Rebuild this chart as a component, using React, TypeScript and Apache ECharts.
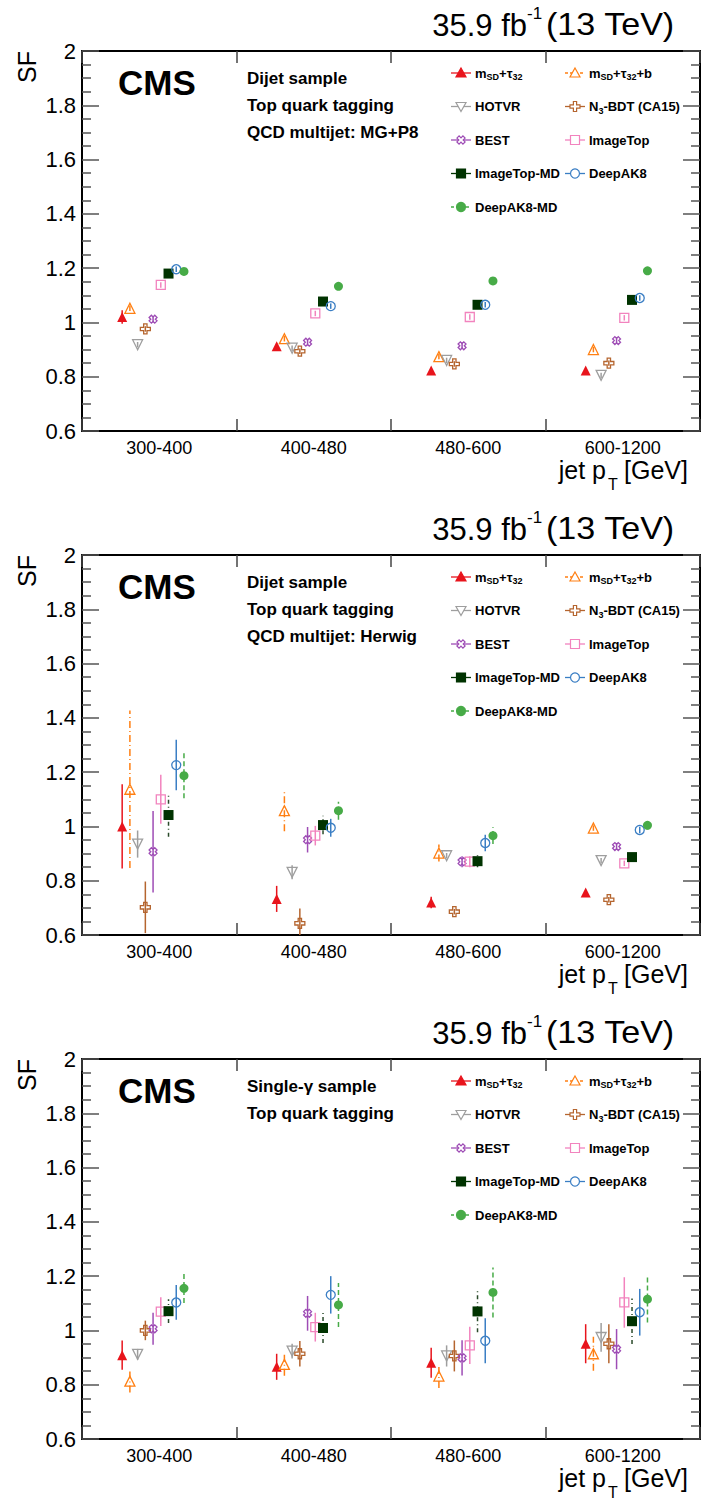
import React, { useEffect, useRef } from "react";
import * as echarts from "echarts";

const categories = ["300-400", "400-480", "480-600", "600-1200"];
const yTicks = { min: 0.6, max: 2, interval: 0.2 };

// Tagger order: m_SD+tau32, m_SD+tau32+b, HOTVR, N3-BDT (CA15), BEST, ImageTop, ImageTop-MD, DeepAK8, DeepAK8-MD
const taggerNames = ["msdTau32", "msdTau32b", "HOTVR", "N3-BDT (CA15)", "BEST", "ImageTop", "ImageTop-MD", "DeepAK8", "DeepAK8-MD"];

// Panel 1: Dijet sample, QCD multijet MG+P8
const mgSF = [
  [1.02, 0.912, 0.823, 0.823],
  [1.052, 0.94, 0.874, 0.9],
  [0.918, 0.905, 0.86, 0.805],
  [0.976, 0.894, 0.847, 0.85],
  [1.012, 0.927, 0.914, 0.933],
  [1.138, 1.033, 1.02, 1.017],
  [1.18, 1.077, 1.065, 1.083],
  [1.196, 1.06, 1.065, 1.09],
  [1.188, 1.133, 1.153, 1.19],
];
const mgErr = [
  [0.025, 0.01, 0.01, 0.01],
  [0.01, 0.01, 0.01, 0.01],
  [0.01, 0.01, 0.01, 0.01],
  [0.01, 0.01, 0.01, 0.01],
  [0.01, 0.01, 0.01, 0.01],
  [0.01, 0.01, 0.01, 0.01],
  [0.01, 0.01, 0.01, 0.01],
  [0.01, 0.01, 0.01, 0.01],
  [0.01, 0.01, 0.01, 0.01],
];

// Panel 2: Dijet sample, QCD multijet Herwig
const hwSF = [
  [1.0, 0.733, 0.72, 0.757],
  [1.137, 1.058, 0.902, 0.994],
  [0.935, 0.831, 0.892, 0.874],
  [0.702, 0.643, 0.686, 0.73],
  [0.907, 0.951, 0.87, 0.926],
  [1.1, 0.966, 0.87, 0.864],
  [1.042, 1.005, 0.872, 0.887],
  [1.226, 0.995, 0.939, 0.987],
  [1.187, 1.058, 0.966, 1.004],
];
const hwErr = [
  [0.155, 0.048, 0.021, 0.01],
  [0.29, 0.076, 0.031, 0.01],
  [0.05, 0.026, 0.01, 0.01],
  [0.095, 0.055, 0.01, 0.01],
  [0.15, 0.047, 0.02, 0.01],
  [0.09, 0.036, 0.02, 0.01],
  [0.08, 0.034, 0.022, 0.012],
  [0.093, 0.033, 0.03, 0.012],
  [0.083, 0.033, 0.031, 0.015],
];

// Panel 3: Single-gamma sample
const gammaSF = [
  [0.909, 0.866, 0.881, 0.951],
  [0.813, 0.875, 0.832, 0.914],
  [0.912, 0.924, 0.906, 0.974],
  [1.0, 0.914, 0.906, 0.951],
  [1.006, 1.063, 0.899, 0.931],
  [1.069, 1.012, 0.945, 1.103],
  [1.071, 1.009, 1.07, 1.034],
  [1.103, 1.131, 0.962, 1.067],
  [1.155, 1.094, 1.14, 1.115],
];
const gammaErr = [
  [0.054, 0.048, 0.055, 0.072],
  [0.042, 0.042, 0.044, 0.063],
  [0.02, 0.027, 0.039, 0.053],
  [0.036, 0.047, 0.057, 0.072],
  [0.059, 0.064, 0.065, 0.074],
  [0.053, 0.053, 0.069, 0.093],
  [0.044, 0.055, 0.077, 0.084],
  [0.064, 0.069, 0.083, 0.086],
  [0.054, 0.081, 0.092, 0.086],
];

const panelTexts = [
  ["Dijet sample", "Top quark tagging", "QCD multijet: MG+P8"],
  ["Dijet sample", "Top quark tagging", "QCD multijet: Herwig"],
  ["Single-\u03b3 sample", "Top quark tagging"],
];

const FONT = "'Liberation Sans', Arial, Helvetica, sans-serif";

const colors = ["#e8141c", "#ff7f12", "#9e9e9e", "#b5652f", "#9e4cb5", "#f283be", "#003300", "#3a7ec4", "#47ab47"];
const hollow = [false, true, true, true, true, true, false, true, false];
const barDash: (number[] | null)[] = [null, [7, 3, 1, 3], null, null, null, null, [4, 3, 1, 3], null, [5, 3]];
const barColors = ["#e8141c", "#ff7f12", "#9e9e9e", "#b5652f", "#9e4cb5", "#f283be", "#2a4a2a", "#3a7ec4", "#47ab47"];

const plusPath = "path://M-1,-3L1,-3L1,-1L3,-1L3,1L1,1L1,3L-1,3L-1,1L-3,1L-3,-1L-1,-1Z";
const xPath = "path://M-1.2,-3L1.2,-3L1.2,-1.2L3,-1.2L3,1.2L1.2,1.2L1.2,3L-1.2,3L-1.2,1.2L-3,1.2L-3,-1.2L-1.2,-1.2Z";
const symbols = ["triangle", "triangle", "triangle", plusPath, xPath, "rect", "rect", "circle", "circle"];
const symRot = [0, 0, 180, 0, 45, 0, 0, 0, 0];
const symSize = [10, 10, 10, 10, 8, 9, 10, 9, 9];

const PANEL_DY = 504;
const GRID_LEFT = 82;
const GRID_RIGHT_X = 700;
const GRID_TOP = 51;
const GRID_H = 380;

function xPos(cat: number, i: number) {
  return cat + 0.5 - 0.24 + 0.05 * i;
}

function legendLabel(i: number) {
  const sub = { fontSize: 9, fontWeight: "bold", fontFamily: FONT, verticalAlign: "middle", padding: [8, 0, 0, 0], fill: "#000" };
  const main = { fontSize: 13, fontWeight: "bold", fontFamily: FONT, verticalAlign: "middle", fill: "#000" };
  if (i === 0) return { text: "{m|m}{s|SD}{m|+\u03c4}{s|32}", rich: { m: main, s: sub } };
  if (i === 1) return { text: "{m|m}{s|SD}{m|+\u03c4}{s|32}{m|+b}", rich: { m: main, s: sub } };
  if (i === 3) return { text: "{m|N}{s|3}{m|-BDT (CA15)}", rich: { m: main, s: sub } };
  return { text: "{m|" + taggerNames[i] + "}", rich: { m: main, s: sub } };
}

function legendMarker(i: number, cx: number, cy: number): any[] {
  const c = colors[i];
  const out: any[] = [];
  const lineStyle: any = { stroke: c, lineWidth: 1.3 };
  if (i === 1 || i === 8) lineStyle.lineDash = [3, 2];
  out.push({ type: "line", shape: { x1: cx - 10, y1: cy, x2: cx + 10, y2: cy }, style: lineStyle, z: 10 });
  const fill = hollow[i] ? "#fff" : c;
  const st = { fill, stroke: c, lineWidth: 1.2 };
  if (i === 0 || i === 1) {
    out.push({ type: "polygon", shape: { points: [[cx, cy - 5], [cx + 5, cy + 4], [cx - 5, cy + 4]] }, style: st, z: 11 });
  } else if (i === 2) {
    out.push({ type: "polygon", shape: { points: [[cx, cy + 5], [cx + 5, cy - 4], [cx - 5, cy - 4]] }, style: st, z: 11 });
  } else if (i === 3 || i === 4) {
    const a = i === 3 ? 1.6 : 1.8;
    const b = 5;
    const pts = [[-a, -b], [a, -b], [a, -a], [b, -a], [b, a], [a, a], [a, b], [-a, b], [-a, a], [-b, a], [-b, -a], [-a, -a]];
    out.push({
      type: "polygon",
      x: cx,
      y: cy,
      rotation: i === 4 ? Math.PI / 4 : 0,
      shape: { points: pts.map((p) => (i === 4 ? [p[0] * 0.85, p[1] * 0.85] : p)) },
      style: st,
      z: 11,
    });
  } else if (i === 5 || i === 6) {
    out.push({ type: "rect", shape: { x: cx - 4.5, y: cy - 4.5, width: 9, height: 9 }, style: st, z: 11 });
  } else {
    out.push({ type: "circle", shape: { cx, cy, r: 4.5 }, style: st, z: 11 });
  }
  return out;
}

function panelGraphics(k: number): any[] {
  const dy = k * PANEL_DY;
  const g: any[] = [];
  const txt = (text: string, x: number, y: number, size: number, opts: any = {}) => ({
    type: "text",
    x,
    y,
    rotation: opts.rotation || 0,
    scaleX: opts.scaleX || 1,
    style: {
      text,
      fontSize: size,
      fontFamily: FONT,
      fontWeight: opts.bold ? "bold" : "normal",
      fill: "#000",
      textAlign: opts.align || "left",
      textVerticalAlign: "middle",
    },
    z: 20,
  });
  // luminosity title
  g.push(txt("35.9 fb", 527, 25 + dy, 31, { align: "right" }));
  g.push(txt("-1", 527, 13 + dy, 17));
  g.push(txt("(13 TeV)", 546, 25 + dy, 31, { scaleX: 1.1 }));
  // SF axis title
  g.push(txt("SF", 27, 67 + dy, 25, { rotation: Math.PI / 2, align: "center" }));
  // x axis title
  g.push(txt("jet p", 606, 470 + dy, 25, { align: "right" }));
  g.push(txt("T", 608, 484 + dy, 16));
  g.push(txt("[GeV]", 624, 470 + dy, 25));
  // CMS
  g.push(txt("CMS", 118, 82 + dy, 35, { bold: true }));
  panelTexts[k].forEach((t, j) => g.push(txt(t, 247, 78 + 27 * j + dy, 17, { bold: true })));
  // legend
  const colX = [461, 575];
  const rowY = [73, 106.5, 140, 173.5, 207];
  for (let i = 0; i < 9; i++) {
    const col = i % 2;
    const row = Math.floor(i / 2);
    const cx = colX[col];
    const cy = rowY[row] + dy;
    g.push(...legendMarker(i, cx, cy));
    const lab = legendLabel(i);
    g.push({
      type: "text",
      x: cx + 14,
      y: cy,
      style: {
        text: lab.text,
        rich: lab.rich,
        fontSize: 13,
        fontWeight: "bold",
        fontFamily: FONT,
        fill: "#000",
        textAlign: "left",
        textVerticalAlign: "middle",
      },
      z: 20,
    });
  }
  return g;
}

export default function App() {
  const ref = useRef<HTMLDivElement>(null);
  useEffect(() => {
    document.body.style.margin = "0";
    if (!ref.current) return;
    const chart = echarts.init(ref.current, undefined, { renderer: "svg" });
    const panels = [
      { sf: mgSF, err: mgErr },
      { sf: hwSF, err: hwErr },
      { sf: gammaSF, err: gammaErr },
    ];
    const grid: any[] = [];
    const xAxis: any[] = [];
    const yAxis: any[] = [];
    const series: any[] = [];
    panels.forEach((p, k) => {
      grid.push({
        left: GRID_LEFT,
        top: GRID_TOP + k * PANEL_DY,
        width: GRID_RIGHT_X - GRID_LEFT,
        height: GRID_H,
        containLabel: false,
      });
      const axisLine = { show: true, lineStyle: { color: "#000", width: 2 } };
      xAxis.push({
        type: "category",
        gridIndex: k,
        position: "bottom",
        data: categories,
        boundaryGap: true,
        axisLine,
        axisTick: { show: true, inside: true, length: 12, lineStyle: { color: "#444", width: 1.5 } },
        axisLabel: { show: true, interval: 0, fontSize: 18, color: "#000", fontFamily: FONT, margin: 8 },
        splitLine: { show: false },
      });
      xAxis.push({
        type: "category",
        gridIndex: k,
        position: "top",
        data: categories,
        boundaryGap: true,
        axisLine,
        axisTick: { show: true, inside: true, length: 12, lineStyle: { color: "#444", width: 1.5 } },
        axisLabel: { show: false },
        splitLine: { show: false },
      });
      xAxis.push({
        type: "value",
        gridIndex: k,
        min: 0,
        max: 4,
        show: false,
      });
      const yCommon = {
        type: "value",
        gridIndex: k,
        min: yTicks.min,
        max: yTicks.max,
        interval: yTicks.interval,
        axisLine,
        axisTick: { show: true, inside: true, length: 17, lineStyle: { color: "#555", width: 1.5 } },
        minorTick: { show: true, splitNumber: 4, length: 9, lineStyle: { color: "#555", width: 1.5 } },
        splitLine: { show: false },
        minorSplitLine: { show: false },
      };
      yAxis.push({
        ...yCommon,
        position: "left",
        axisLabel: {
          show: true,
          fontSize: 22,
          color: "#000",
          fontFamily: FONT,
          margin: 6,
          formatter: (v: number) => String(Math.round(v * 10) / 10),
        },
      });
      yAxis.push({ ...yCommon, position: "right", axisLabel: { show: false } });

      const xIdx = 3 * k + 2;
      const yIdx = 2 * k;
      for (let i = 0; i < 9; i++) {
        const barData = categories.map((_, c) => [xPos(c, i), p.sf[i][c] - p.err[i][c], p.sf[i][c] + p.err[i][c]]);
        const col = barColors[i];
        const dash = barDash[i];
        series.push({
          type: "custom",
          xAxisIndex: xIdx,
          yAxisIndex: yIdx,
          clip: true,
          z: 2,
          silent: true,
          encode: { x: 0, y: [1, 2] },
          data: barData,
          renderItem: (params: any, api: any) => {
            const a = api.coord([api.value(0), api.value(1)]);
            const b = api.coord([api.value(0), api.value(2)]);
            return {
              type: "line",
              shape: { x1: a[0], y1: a[1], x2: b[0], y2: b[1] },
              style: { stroke: col, lineWidth: 1.5, lineDash: dash || undefined },
            };
          },
        });
        series.push({
          type: "scatter",
          name: taggerNames[i],
          xAxisIndex: xIdx,
          yAxisIndex: yIdx,
          z: 5,
          symbol: symbols[i],
          symbolSize: symSize[i],
          symbolRotate: symRot[i],
          itemStyle: {
            color: hollow[i] ? "rgba(255,255,255,0)" : colors[i],
            borderColor: colors[i],
            borderWidth: hollow[i] ? 1.3 : 0,
            opacity: 1,
          },
          data: categories.map((_, c) => [xPos(c, i), p.sf[i][c]]),
        });
      }
    });

    chart.setOption({
      animation: false,
      backgroundColor: "#fff",
      grid,
      xAxis,
      yAxis,
      series,
      graphic: [0, 1, 2].flatMap((k) => panelGraphics(k)),
    });
    return () => chart.dispose();
  }, []);
  return <div ref={ref} style={{ width: 705, height: 1501 }} />;
}
